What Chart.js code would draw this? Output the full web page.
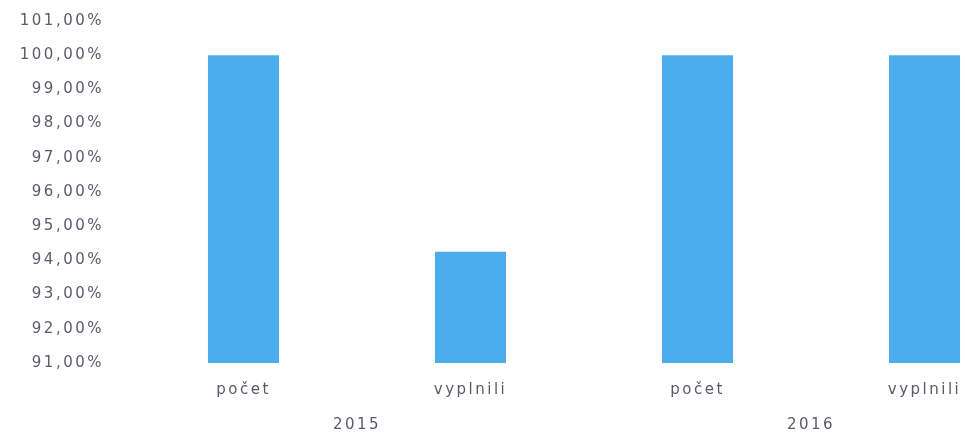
<!DOCTYPE html>
<html>
<head>
<meta charset="utf-8">
<script src="https://cdn.jsdelivr.net/npm/chart.js@4/dist/chart.umd.min.js"></script>
<style>
  html, body { margin: 0; padding: 0; background: #ffffff; overflow: hidden; }
  #wrap { width: 1040px; height: 432px; }
</style>
</head>
<body>
<div id="wrap"><canvas id="c" width="1040" height="432"></canvas></div>
<script>
// Inner category labels (one per bar) and the outer year groups
const categories = ['počet', 'vyplnili', 'počet', 'vyplnili'];
const years = ['2015', '2016'];
// Share in percent for each bar
const values = [100, 94.25, 100, 100];
// Value axis range and step (percent)
const yMin = 91;
const yMax = 101;
const yStep = 1;

const textColor = '#5a5a6c';
const barColor = '#4cacec';

// Widen the letter spacing of all chart text
const spacingPlugin = {
  id: 'spacing',
  beforeDraw(chart) { chart.ctx.letterSpacing = '2.5px'; },
  afterDraw(chart) { chart.ctx.letterSpacing = '0px'; }
};

new Chart(document.getElementById('c'), {
  type: 'bar',
  data: {
    labels: categories,
    datasets: [{
      data: values,
      backgroundColor: barColor,
      borderWidth: 0,
      barPercentage: 0.313,
      categoryPercentage: 1.0
    }]
  },
  options: {
    responsive: false,
    animation: false,
    devicePixelRatio: 1,
    layout: { padding: { top: 21, right: 2, bottom: 0, left: 0 } },
    plugins: { legend: { display: false }, tooltip: { enabled: false } },
    scales: {
      x: {
        position: 'bottom',
        weight: 0,
        offset: true,
        grid: { display: false, drawTicks: false },
        border: { display: false },
        ticks: {
          color: textColor,
          font: { family: 'DejaVu Sans', size: 15 },
          padding: 18,
          maxRotation: 0,
          autoSkip: false
        },
        afterFit(scale) { scale.height = 45; }
      },
      x2: {
        type: 'category',
        labels: years,
        position: 'bottom',
        weight: 1,
        offset: true,
        grid: { display: false, drawTicks: false },
        border: { display: false },
        ticks: {
          color: textColor,
          font: { family: 'DejaVu Sans', size: 15 },
          padding: 8,
          maxRotation: 0,
          autoSkip: false
        },
        afterFit(scale) { scale.height = 24; }
      },
      y: {
        min: yMin,
        max: yMax,
        grid: { display: false, drawTicks: false },
        border: { display: false },
        ticks: {
          stepSize: yStep,
          color: textColor,
          font: { family: 'DejaVu Sans', size: 15 },
          padding: 26,
          callback: v => v.toFixed(2).replace('.', ',') + '%'
        },
        afterFit(scale) {
          scale.width = 130;
          scale.paddingTop = 0;
          scale.paddingBottom = 0;
        }
      }
    }
  },
  plugins: [spacingPlugin]
});
</script>
</body>
</html>
